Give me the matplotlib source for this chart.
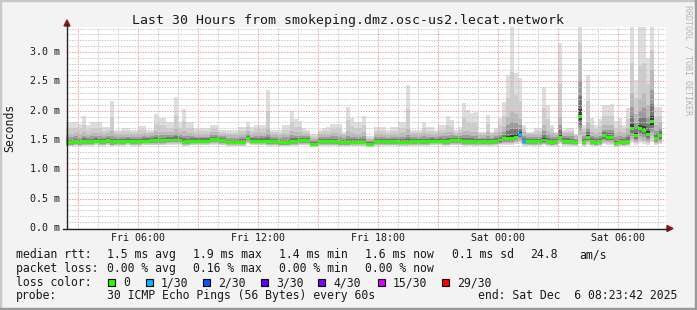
import matplotlib
matplotlib.use('Agg')
import matplotlib.pyplot as plt
from matplotlib.lines import Line2D
from matplotlib.patches import Rectangle, Polygon

# ---------------- data (ms) ----------------
# 149 consolidated columns of 12 minutes, starting Fri 02:23:42
median = [
    1.45, 1.45, 1.47, 1.45, 1.47, 1.47, 1.47, 1.48, 1.47, 1.47,
    1.49, 1.45, 1.47, 1.47, 1.47, 1.48, 1.47, 1.47, 1.47, 1.48,
    1.48, 1.49, 1.49, 1.49, 1.49, 1.50, 1.50, 1.50, 1.50, 1.46,
    1.47, 1.48, 1.48, 1.48, 1.48, 1.48, 1.51, 1.51, 1.49, 1.49,
    1.46, 1.46, 1.46, 1.46, 1.46, 1.53, 1.48, 1.48, 1.48, 1.48,
    1.47, 1.47, 1.47, 1.45, 1.45, 1.45, 1.47, 1.47, 1.49, 1.49,
    1.49, 1.43, 1.43, 1.47, 1.47, 1.47, 1.47, 1.47, 1.45, 1.45,
    1.45, 1.46, 1.46, 1.46, 1.46, 1.43, 1.43, 1.47, 1.47, 1.47,
    1.47, 1.47, 1.47, 1.46, 1.46, 1.46, 1.47, 1.47, 1.47, 1.47,
    1.47, 1.48, 1.48, 1.48, 1.47, 1.47, 1.49, 1.49, 1.49, 1.47,
    1.47, 1.47, 1.46, 1.47, 1.47, 1.46, 1.47, 1.48, 1.50, 1.52,
    1.52, 1.52, 1.55, 1.60, 1.48, 1.47, 1.47, 1.47, 1.47, 1.50,
    1.47, 1.45, 1.47, 1.55, 1.48, 1.48, 1.47, 1.46, 1.90, 1.46,
    1.55, 1.47, 1.45, 1.47, 1.57, 1.55, 1.54, 1.44, 1.46, 1.45,
    1.47, 1.70, 1.57, 1.70, 1.66, 1.59, 1.81, 1.52, 1.57,
]
ping_max = [
    1.81, 1.81, 1.81, 1.78, 1.91, 1.76, 1.81, 1.81, 1.81, 1.72,
    1.72, 2.17, 1.67, 1.67, 1.70, 1.70, 1.67, 1.67, 1.74, 1.74,
    1.67, 1.67, 1.94, 1.88, 1.88, 1.81, 1.81, 2.24, 1.80, 2.03,
    1.80, 1.80, 1.70, 1.70, 1.70, 1.70, 1.75, 1.75, 1.67, 1.67,
    1.67, 1.67, 1.67, 1.73, 1.72, 1.81, 1.72, 1.76, 1.76, 1.76,
    2.36, 1.67, 1.67, 1.67, 1.75, 1.75, 2.00, 1.85, 1.83, 1.70,
    1.67, 1.60, 1.60, 1.67, 1.70, 1.72, 1.77, 1.77, 1.77, 1.63,
    2.07, 1.88, 1.81, 1.81, 1.91, 1.57, 1.57, 1.72, 1.72, 1.72,
    1.67, 1.72, 1.72, 1.81, 1.81, 2.44, 1.67, 1.67, 1.67, 1.80,
    1.72, 1.72, 1.67, 1.75, 1.75, 1.91, 1.84, 1.67, 1.72, 2.13,
    2.01, 1.96, 1.98, 1.64, 1.64, 1.93, 1.64, 1.70, 1.88, 2.15,
    2.61, 3.45, 2.64, 2.56, 1.76, 1.64, 1.64, 1.70, 1.70, 2.41,
    2.10, 1.76, 1.64, 3.15, 1.67, 1.70, 1.70, 1.60, 3.45, 1.76,
    2.61, 1.88, 1.76, 1.85, 2.10, 2.10, 2.12, 1.82, 1.88, 1.76,
    2.05, 3.45, 2.53, 3.45, 3.45, 2.90, 3.45, 2.06, 2.06,
]
ping_p90 = [
    1.61, 1.61, 1.62, 1.60, 1.63, 1.61, 1.62, 1.62, 1.62, 1.60,
    1.62, 1.66, 1.60, 1.60, 1.61, 1.61, 1.60, 1.60, 1.61, 1.62,
    1.61, 1.62, 1.65, 1.64, 1.64, 1.63, 1.63, 1.68, 1.63, 1.65,
    1.62, 1.62, 1.61, 1.61, 1.61, 1.61, 1.63, 1.63, 1.61, 1.61,
    1.59, 1.59, 1.59, 1.60, 1.60, 1.65, 1.61, 1.62, 1.62, 1.62,
    1.68, 1.60, 1.60, 1.59, 1.61, 1.61, 1.65, 1.63, 1.63, 1.61,
    1.61, 1.54, 1.54, 1.60, 1.61, 1.61, 1.62, 1.62, 1.61, 1.58,
    1.65, 1.62, 1.61, 1.61, 1.63, 1.52, 1.52, 1.60, 1.60, 1.60,
    1.59, 1.60, 1.60, 1.62, 1.62, 1.68, 1.60, 1.60, 1.60, 1.62,
    1.60, 1.61, 1.60, 1.62, 1.62, 1.64, 1.64, 1.61, 1.62, 1.66,
    1.65, 1.64, 1.64, 1.59, 1.59, 1.64, 1.59, 1.62, 1.64, 1.72,
    1.90, 2.00, 1.95, 1.85, 1.64, 1.60, 1.60, 1.61, 1.61, 1.75,
    1.66, 1.62, 1.60, 1.90, 1.62, 1.62, 1.62, 1.56, 2.90, 1.63,
    1.80, 1.64, 1.62, 1.64, 1.75, 1.75, 1.75, 1.62, 1.64, 1.62,
    1.70, 2.30, 1.95, 2.20, 2.30, 2.10, 2.70, 1.75, 1.80,
]
ping_min = [
    1.39, 1.39, 1.40, 1.39, 1.40, 1.40, 1.40, 1.41, 1.40, 1.40,
    1.41, 1.39, 1.40, 1.40, 1.40, 1.41, 1.40, 1.40, 1.40, 1.41,
    1.41, 1.41, 1.41, 1.41, 1.41, 1.42, 1.42, 1.42, 1.42, 1.39,
    1.40, 1.41, 1.41, 1.41, 1.41, 1.41, 1.42, 1.42, 1.41, 1.41,
    1.39, 1.39, 1.39, 1.39, 1.39, 1.43, 1.41, 1.41, 1.41, 1.41,
    1.40, 1.40, 1.40, 1.39, 1.39, 1.39, 1.40, 1.40, 1.41, 1.41,
    1.41, 1.38, 1.38, 1.40, 1.40, 1.40, 1.40, 1.40, 1.39, 1.39,
    1.39, 1.39, 1.39, 1.39, 1.39, 1.38, 1.38, 1.40, 1.40, 1.40,
    1.40, 1.40, 1.40, 1.39, 1.39, 1.39, 1.40, 1.40, 1.40, 1.40,
    1.40, 1.41, 1.41, 1.41, 1.40, 1.40, 1.41, 1.41, 1.41, 1.40,
    1.40, 1.40, 1.39, 1.40, 1.40, 1.39, 1.40, 1.40, 1.41, 1.42,
    1.42, 1.42, 1.43, 1.44, 1.40, 1.40, 1.40, 1.40, 1.40, 1.41,
    1.40, 1.39, 1.40, 1.43, 1.40, 1.40, 1.40, 1.39, 1.44, 1.39,
    1.42, 1.40, 1.39, 1.40, 1.43, 1.42, 1.42, 1.38, 1.39, 1.39,
    1.40, 1.45, 1.42, 1.45, 1.44, 1.42, 1.46, 1.41, 1.43,
]
loss_cols = [113, 114]
loss_vals = [1, 1]

step_hours = 0.2
span_hours = 30.0
first_hour_offset = 0.605          # 03:00 is 0.605 h after start
x_labels = ['Fri 06:00', 'Fri 12:00', 'Fri 18:00', 'Sat 00:00', 'Sat 06:00']

loss_colors = ['#26ff00', '#00b8ff', '#0059ff', '#5e00ff', '#7e00ff', '#dd00ff', '#ff0000']
loss_labels = ['0', '1/30', '2/30', '3/30', '4/30', '15/30', '29/30']
loss_levels = [0, 1, 2, 3, 4, 15, 29]

# ---------------- figure ----------------
W, H = 697, 310
FONT = 'DejaVu Sans Mono'
fig = plt.figure(figsize=(W / 100, H / 100), dpi=100)
fig.patch.set_facecolor('#f3f3f3')

def fx(px):
    return px / W

def fy(py):
    return 1 - py / H

# frame shading
fig.add_artist(Rectangle((0, 0), 1, 1, transform=fig.transFigure, fill=False,
                         edgecolor='#c8c8c8', lw=2.5))
fig.add_artist(Line2D([fx(0), fx(W)], [fy(H - 1), fy(H - 1)], transform=fig.transFigure,
                      color='#9a9a9a', lw=2.5))
fig.add_artist(Line2D([fx(W - 1), fx(W - 1)], [fy(0), fy(H)], transform=fig.transFigure,
                      color='#9a9a9a', lw=2.5))

px_per_ms = 58.67
ax = fig.add_axes([fx(66), fy(228), 600 / W, 201 / H])
ax.set_xlim(0, span_hours)
ax.set_ylim(0, 201 / px_per_ms)
ax.set_facecolor('white')
for s in ax.spines.values():
    s.set_visible(False)
ax.set_xticks([])
ax.set_yticks([])

n = len(median)
xs = [i * step_hours for i in range(n)]

# smoke layers (outer -> inner)
top_w = [None, 0.45, 0.0, 0.6, 0.35, 0.12]
bot_w = [1.0, 0.85, 0.7, 0.5, 0.32, 0.14]
shades = ['#dedede', '#cdcdcd', '#b9b9b9', '#9c9c9c', '#777777', '#3e3e3e']
for j in range(6):
    bottoms, heights = [], []
    for i in range(n):
        m, lo, q, hi = median[i], ping_min[i], ping_p90[i], ping_max[i]
        if j == 0:
            t = hi
        elif j == 1:
            t = q + top_w[1] * (hi - q)
        elif j == 2:
            t = q
        else:
            t = m + top_w[j] * (q - m)
        b = m - (m - lo) * bot_w[j]
        bottoms.append(b)
        heights.append(t - b)
    ax.bar(xs, heights, bottom=bottoms, width=step_hours, align='edge',
           color=shades[j], linewidth=0, zorder=2)

# grid
dots = (0, (1.4, 1.4))
for k in range(1, 35):
    if k % 5 != 0:
        ax.axhline(k * 0.1, color='#c6c6c6', lw=0.7, ls=dots, zorder=3)
for k in range(30):
    if k % 3 != 0:
        ax.axvline(first_hour_offset + k, color='#c6c6c6', lw=0.7, ls=dots, zorder=3)
for k in range(1, 7):
    ax.axhline(k * 0.5, color='#ff9494', lw=0.7, ls=dots, zorder=3.1)
for k in range(10):
    ax.axvline(first_hour_offset + 3 * k, color='#ff9494', lw=0.7, ls=dots, zorder=3.1)

# median line, coloured by loss
loss_of = {c: v for c, v in zip(loss_cols, loss_vals)}
gh = 0.05
gcol = []
for i in range(n):
    lv = loss_of.get(i, 0)
    idx = max(k for k, L in enumerate(loss_levels) if L <= lv)
    gcol.append(loss_colors[idx])
ax.bar(xs, [gh] * n, bottom=[m - gh / 2 for m in median], width=step_hours,
       align='edge', color=gcol, linewidth=0, zorder=4)

# axis lines and arrows
fig.add_artist(Line2D([fx(67), fx(67)], [fy(228), fy(24)], transform=fig.transFigure,
                      color='#202020', lw=1.0))
fig.add_artist(Line2D([fx(63), fx(668)], [fy(228.5), fy(228.5)], transform=fig.transFigure,
                      color='#202020', lw=1.0))
fig.add_artist(Polygon([(fx(67), fy(20)), (fx(64), fy(26)), (fx(70), fy(26))],
                       closed=True, transform=fig.transFigure, color='#8b1a1a'))
fig.add_artist(Polygon([(fx(673), fy(228.5)), (fx(667), fy(225.5)), (fx(667), fy(231.5))],
                       closed=True, transform=fig.transFigure, color='#8b1a1a'))

# y tick labels
for v in [0.0, 0.5, 1.0, 1.5, 2.0, 2.5, 3.0]:
    py = 228 - v * px_per_ms
    fig.text(fx(60), fy(py + 3), f'{v:.1f} m', ha='right', va='baseline',
             family=FONT, fontsize=7.2, color='#1a1a1a')

# x tick labels
for k, lab in enumerate(x_labels):
    t = first_hour_offset + 3 + 6 * k
    px = 66 + t * 20
    fig.text(fx(px), fy(240.7), lab, ha='center', va='baseline',
             family=FONT, fontsize=7.2, color='#1a1a1a')

# title and side texts
fig.text(fx(348), fy(24), 'Last 30 Hours from smokeping.dmz.osc-us2.lecat.network',
         ha='center', va='baseline', family=FONT, fontsize=9.5, color='#1a1a1a')
fig.text(fx(10), fy(127.5), 'Seconds', rotation=90, ha='center', va='center',
         family=FONT, fontsize=8.3, color='#1a1a1a')
fig.text(fx(688), fy(60), 'RRDTOOL / TOBI OETIKER', rotation=270, ha='center', va='center',
         family=FONT, fontsize=6.0, color='#b4b4b4')

# legend
LS = 8.3
def lt(px, py, s):
    fig.text(fx(px), fy(py), s, ha='left', va='baseline', family=FONT,
             fontsize=LS, color='#1a1a1a')

lt(16, 258.3, 'median rtt:')
lt(107, 258.3, '1.5 ms avg')
lt(193, 258.3, '1.9 ms max')
lt(279, 258.3, '1.4 ms min')
lt(365, 258.3, '1.6 ms now')
lt(452, 258.3, '0.1 ms sd')
lt(530, 258.3, '24.8')
lt(579, 258.3, 'am/s')

lt(16, 271.7, 'packet loss:')
lt(107, 271.7, '0.00 % avg')
lt(193, 271.7, '0.16 % max')
lt(279, 271.7, '0.00 % min')
lt(365, 271.7, '0.00 % now')

lt(16, 286, 'loss color:')
box_x = [108, 146, 203, 261, 318, 378, 442]
for bx, c, lab in zip(box_x, loss_colors, loss_labels):
    fig.add_artist(Rectangle((fx(bx), fy(286)), 7 / W, 7 / H, transform=fig.transFigure,
                             facecolor=c, edgecolor='black', lw=0.8))
    lt(bx + 15, 286, lab)

lt(16, 299.3, 'probe:')
lt(107, 299.3, '30 ICMP Echo Pings (56 Bytes) every 60s')
lt(478, 299.3, 'end: Sat Dec  6 08:23:42 2025')

fig.savefig('out.png', dpi=100, facecolor=fig.get_facecolor())
